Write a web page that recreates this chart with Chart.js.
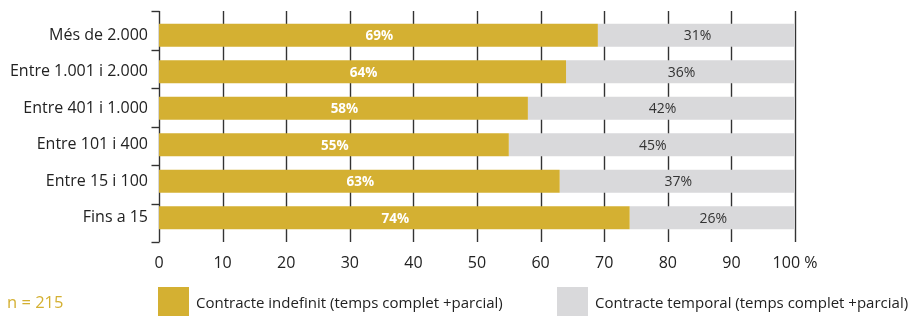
<!DOCTYPE html>
<html><head><meta charset="utf-8">
<script src="https://cdn.jsdelivr.net/npm/chart.js@4/dist/chart.umd.min.js"></script>
<style>
html,body{margin:0;padding:0;background:#fff;}
#wrap{position:relative;width:909px;height:316px;}
#legend{position:absolute;left:0;top:287px;width:909px;height:29px;font-family:"Open Sans","Liberation Sans",Arial,sans-serif;font-size:15px;color:#222;}
.item{position:absolute;top:0;height:29px;display:flex;align-items:center;}
.box{width:31px;height:29px;margin-right:7px;}
#n{position:absolute;left:7px;top:3px;color:#D4B032;font-size:16.5px;}
</style></head>
<body><div id="wrap"><canvas id="c" width="909" height="316"></canvas><div id="legend"></div></div>
<script>
const categories = ["Més de 2.000","Entre 1.001 i 2.000","Entre 401 i 1.000","Entre 101 i 400","Entre 15 i 100","Fins a 15"];
const indefinit = [69,64,58,55,63,74];
const temporal = [31,36,42,45,37,26];
const seriesNames = ["Contracte indefinit (temps complet +parcial)","Contracte temporal (temps complet +parcial)"];
const xTicks = ["0","10","20","30","40","50","60","70","80","90","100 %"];
const sampleNote = "n = 215";

const GOLD = "#D4B032", GREY = "#D9D9DB";
const FONT = "'Open Sans', 'Liberation Sans', Arial, sans-serif";
const EXT = 6;

const frame = {
  id: "frame",
  beforeDatasetsDraw(chart) {
    const ctx = chart.ctx, a = chart.chartArea, x = chart.scales.x;
    const top = a.top - EXT, bot = a.bottom + EXT;
    ctx.save();
    ctx.strokeStyle = "#333";
    ctx.lineWidth = 1.4;
    x.ticks.forEach(t => {
      const px = Math.round(x.getPixelForValue(t.value)) + 0.5;
      ctx.beginPath(); ctx.moveTo(px, top); ctx.lineTo(px, bot); ctx.stroke();
    });
    const n = chart.data.labels.length;
    const x0 = Math.round(x.getPixelForValue(0)) + 0.5;
    for (let i = 0; i <= n; i++) {
      const py = Math.round(top + (bot - top) * i / n) + 0.5;
      ctx.beginPath(); ctx.moveTo(x0 - 8, py); ctx.lineTo(x0, py); ctx.stroke();
    }
    ctx.restore();
  }
};

const valueLabels = {
  id: "valueLabels",
  afterDatasetsDraw(chart) {
    const ctx = chart.ctx;
    chart.data.datasets.forEach((ds, di) => {
      const meta = chart.getDatasetMeta(di);
      meta.data.forEach((bar, i) => {
        const cx = (bar.x + bar.base) / 2;
        ctx.save();
        ctx.font = di === 0 ? "bold 13.5px " + FONT : "14px " + FONT;
        ctx.fillStyle = di === 0 ? "#ffffff" : "#333333";
        ctx.textAlign = "center";
        ctx.textBaseline = "middle";
        ctx.fillText(ds.data[i] + "%", cx + 1, bar.y + 1);
        ctx.restore();
      });
    });
  }
};

new Chart(document.getElementById("c"), {
  type: "bar",
  data: {
    labels: categories,
    datasets: [
      { label: seriesNames[0], data: indefinit, backgroundColor: GOLD, barPercentage: 0.63, categoryPercentage: 1 },
      { label: seriesNames[1], data: temporal, backgroundColor: GREY, barPercentage: 0.63, categoryPercentage: 1 }
    ]
  },
  options: {
    indexAxis: "y",
    responsive: false,
    animation: false,
    layout: { padding: { top: 17, right: 114, left: 0, bottom: 0 } },
    plugins: { legend: { display: false }, tooltip: { enabled: false } },
    scales: {
      x: {
        stacked: true, min: 0, max: 100,
        ticks: { stepSize: 10, color: "#222", font: { family: FONT, size: 16 }, padding: 10,
                 callback: (v, i) => xTicks[i] },
        grid: { display: false },
        border: { display: false },
        afterFit: s => { s.height = 316 - 236; }
      },
      y: {
        stacked: true,
        ticks: { color: "#222", font: { family: FONT, size: 16 }, padding: 3 },
        grid: { display: false },
        border: { display: false },
        afterFit: s => { s.width = 159; }
      }
    }
  },
  plugins: [frame, valueLabels]
});

const lg = document.getElementById("legend");
const n = document.createElement("div"); n.id = "n"; n.textContent = sampleNote; lg.appendChild(n);
[[158, GOLD, seriesNames[0]], [557, GREY, seriesNames[1]]].forEach(([x, c, t]) => {
  const it = document.createElement("div"); it.className = "item"; it.style.left = x + "px";
  const b = document.createElement("div"); b.className = "box"; b.style.background = c;
  const s = document.createElement("span"); s.textContent = t;
  it.appendChild(b); it.appendChild(s); lg.appendChild(it);
});
</script></body></html>
